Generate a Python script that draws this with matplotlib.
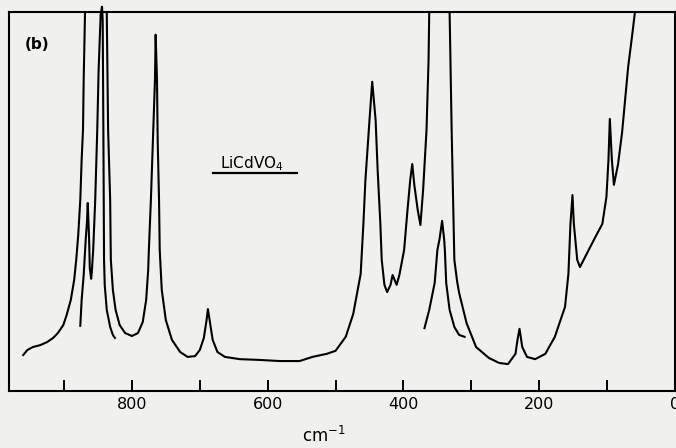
import numpy as np
import matplotlib
matplotlib.use('agg')
import matplotlib.pyplot as plt
from matplotlib.ticker import MultipleLocator

# Main trace (high gain), wavenumber in cm-1 and relative intensity (0-100)
main_wn = [960, 954, 946, 935, 925, 916, 909, 901, 896, 890, 885, 882, 879,
           876, 874, 872, 871, 869, 837, 835, 832, 831, 828, 824, 818, 810,
           800, 791, 784, 779, 776, 775, 772, 769, 766, 765, 763, 762, 760,
           759, 756, 750, 741, 729, 718, 707, 700, 694, 690, 688, 685, 681,
           674, 663, 641, 612, 582, 553, 534, 513, 500, 485, 474, 463, 459,
           456, 450, 446, 441, 438, 434, 432, 428, 424, 419, 416, 413, 410,
           406, 399, 394, 390, 387, 384, 379, 375, 371, 366, 363, 362, 332,
           329, 325, 321, 318, 307, 293, 274, 259, 246, 235, 232, 229, 225,
           218, 206, 191, 177, 162, 157, 154, 151, 149, 144, 140, 128, 118,
           107, 101, 98, 96, 93, 90, 84, 78, 69, 63, 59, 0]
main_int = [9.5, 10.8, 11.6, 12.1, 12.9, 14.0, 15.3, 17.4, 20.1, 24.0, 29.3,
            34.6, 41.2, 50.4, 61.0, 68.9, 82.1, 100, 100, 68.9, 50.4, 34.6,
            26.7, 21.4, 17.4, 15.3, 14.5, 15.3, 18.2, 24.0, 31.9, 37.2, 50.4,
            66.2, 82.1, 94.0, 82.1, 66.2, 50.4, 37.2, 26.7, 18.7, 13.5, 10.3,
            9.0, 9.2, 10.8, 14.0, 18.7, 21.6, 18.2, 13.5, 10.3, 9.0, 8.4, 8.2,
            7.9, 7.9, 9.0, 9.8, 10.6, 14.3, 20.3, 30.9, 44.1, 55.7, 71.5,
            81.6, 71.5, 58.3, 44.1, 34.6, 28.0, 26.1, 28.0, 30.6, 29.3, 28.0,
            30.6, 37.2, 47.8, 55.7, 59.9, 54.4, 47.8, 43.8, 53.1, 68.9, 87.4,
            100, 100, 68.9, 34.6, 29.0, 25.9, 17.9, 11.6, 8.7, 7.4, 7.1, 9.8,
            13.5, 16.4, 11.6, 9.0, 8.4, 9.8, 14.3, 22.2, 30.9, 44.1, 51.7,
            44.1, 34.6, 32.7, 36.9, 40.4, 44.1, 51.2, 61.0, 71.8, 61.0, 54.4,
            59.7, 68.1, 85.5, 94.0, 100, 100]

# Reduced-gain trace over the 860/845 cm-1 bands
hi_wn = [876, 874, 871, 868, 866, 865, 863, 862, 860, 859, 857, 854, 851,
         849, 846, 844, 843, 842, 841, 840, 837, 832, 828, 825]
hi_int = [17.2, 24.0, 30.6, 39.9, 45.1, 49.6, 39.9, 32.5, 29.6, 31.4, 37.2,
          50.4, 68.9, 84.7, 99.3, 101.4, 97.9, 68.9, 34.6, 28.0, 21.4, 16.9,
          14.8, 14.0]

# Reduced-gain trace over the 343 cm-1 band
mid_wn = [369, 362, 354, 350, 347, 343, 340, 339, 337, 332, 325, 318, 310]
mid_int = [16.6, 21.4, 28.5, 37.2, 39.9, 44.9, 39.9, 37.2, 28.5, 21.4, 16.9,
           14.8, 14.3]

tick_labels = {800: '800', 600: '600', 400: '400', 200: '200', 0: '0'}

bg = '#f0f0ef'
fig = plt.figure(figsize=(6.76, 4.48), dpi=100, facecolor=bg)
ax = fig.add_axes((9 / 676, 1 - 391 / 448, 666 / 676, 379 / 448))
ax.set_facecolor(bg)

lw = 1.5
ax.plot(main_wn, main_int, color='k', lw=lw, solid_joinstyle='round')
ax.plot(hi_wn, hi_int, color='k', lw=lw, clip_on=False,
        solid_joinstyle='round')
ax.plot(mid_wn, mid_int, color='k', lw=lw, solid_joinstyle='round')

ax.set_xlim(981, 0)
ax.set_ylim(0, 100)

for s in ax.spines.values():
    s.set_linewidth(1.5)

ax.xaxis.set_major_locator(MultipleLocator(100))
ax.set_xticklabels([tick_labels.get(int(round(t)), '')
                    for t in ax.get_xticks()])
ax.tick_params(axis='x', direction='in', length=8, width=1.4, pad=4,
               labelsize=11.5)
ax.set_yticks([])

ax.text(0.024, 0.915, '(b)', transform=ax.transAxes, fontsize=11,
        fontweight='bold', va='center', ha='left')
ax.text(0.365, 0.60, 'LiCdVO$_4$', transform=ax.transAxes, fontsize=11,
        va='center', ha='center')
ax.plot([0.306, 0.432], [0.575, 0.575], transform=ax.transAxes,
        color='k', lw=1.6)

fig.text(324 / 676, 1 - 436 / 448, 'cm$^{-1}$', fontsize=12,
         ha='center', va='center')

fig.savefig('out.png', dpi=100, facecolor=bg)
